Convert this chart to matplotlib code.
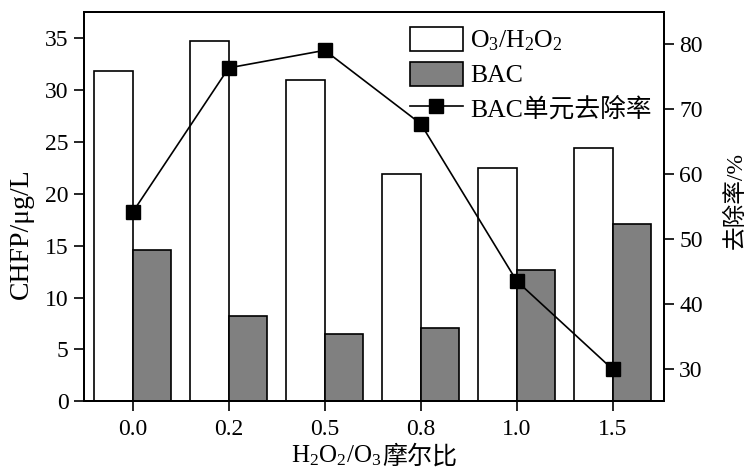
import matplotlib
matplotlib.use('Agg')
import matplotlib.pyplot as plt
from matplotlib.patches import Patch
from matplotlib.lines import Line2D

# 字体: 西文用 Times 风格, 中文回退到 Noto Sans CJK
plt.rcParams['font.family'] = ['Liberation Serif', 'Noto Sans CJK SC']
plt.rcParams['mathtext.fontset'] = 'custom'
plt.rcParams['mathtext.rm'] = 'Liberation Serif'
plt.rcParams['mathtext.it'] = 'Liberation Serif:italic'
plt.rcParams['axes.unicode_minus'] = False

# 数据
ratio_labels = ['0.0', '0.2', '0.5', '0.8', '1.0', '1.5']
chfp_o3h2o2 = [31.8, 34.7, 31.0, 21.9, 22.5, 24.4]   # O3/H2O2 出水 CHFP
chfp_bac = [14.6, 8.2, 6.5, 7.1, 12.7, 17.1]        # BAC 出水 CHFP
bac_removal = [54.1, 76.3, 79.0, 67.7, 43.5, 29.9]  # BAC单元去除率 %

x = list(range(len(ratio_labels)))
w = 0.4

fig = plt.figure(figsize=(7.51, 4.70), dpi=100)
ax = fig.add_axes([0.1119, 0.1462, 0.7723, 0.8276])

ax.bar(x, chfp_o3h2o2, width=-w, align='edge', color='white',
       edgecolor='black', linewidth=1.2)
ax.bar(x, chfp_bac, width=w, align='edge', color='#808080',
       edgecolor='black', linewidth=1.2)

ax.set_xlim(-0.507, 5.534)
ax.set_ylim(0, 37.5)
ax.set_yticks(range(0, 36, 5))
ax.set_xticks(x)
ax.set_xticklabels(ratio_labels)
ax.set_ylabel('CHFP/μg/L', fontsize=20)
ax.yaxis.set_label_coords(-0.087, 0.43)

ax2 = ax.twinx()
ax2.plot(x, bac_removal, color='black', linewidth=1.2, marker='s',
         markersize=10, markerfacecolor='black')
ax2.set_ylim(25, 84.85)
ax2.set_yticks(range(30, 81, 10))
ax2.set_ylabel('去除率/%', fontsize=17)
ax2.yaxis.set_label_coords(1.104, 0.517)

for a in (ax, ax2):
    for s in a.spines.values():
        s.set_linewidth(1.4)
    a.tick_params(direction='out', length=7, width=1.2, labelsize=17, pad=4)
ax.tick_params(axis='x', pad=6)

# 图例
handles = [
    Patch(facecolor='white', edgecolor='black', linewidth=1.2),
    Patch(facecolor='#808080', edgecolor='black', linewidth=1.2),
    Line2D([], [], color='black', linewidth=1.2, marker='s', markersize=10),
]
labels = ['O$_3$/H$_2$O$_2$', 'BAC', 'BAC单元去除率']
ax2.legend(handles, labels, loc='upper left',
           bbox_to_anchor=(410 / 751, 1 - 27 / 470),
           bbox_transform=fig.transFigure, frameon=False, fontsize=18.5,
           borderpad=0, borderaxespad=0, handlelength=2.05, handleheight=1.05,
           labelspacing=0.33, handletextpad=0.3, numpoints=1)

# x 轴标题: 下标部分用 mathtext, 中文部分单独接在后面
t1 = fig.text(0.5, 0.004, 'H$_2$O$_2$/O$_3$', fontsize=18, ha='left',
              va='bottom')
t2 = fig.text(0, 0, '摩尔比', fontsize=18, ha='left', va='baseline',
              family=['Noto Sans CJK SC'])
fig.canvas.draw()
r = fig.canvas.get_renderer()
b1 = t1.get_window_extent(r)
b2 = t2.get_window_extent(r)
total = b1.width + b2.width
cx = (ax.get_position().x0 + ax.get_position().x1) / 2 * fig.bbox.width
x0 = cx - total / 2
t1.set_x(x0 / fig.bbox.width)
fig.canvas.draw()
b1 = t1.get_window_extent(r)
t2.set_position((b1.x1 / fig.bbox.width, (b1.y0 + 5) / fig.bbox.height))

fig.savefig('out.png', dpi=100)
